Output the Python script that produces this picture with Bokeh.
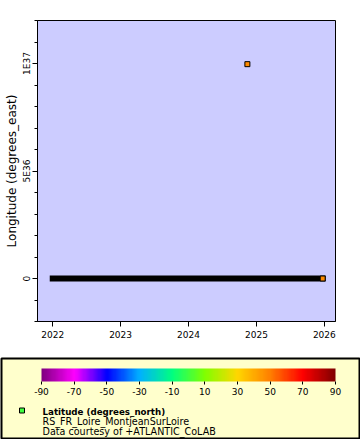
from datetime import datetime
import numpy as np
from bokeh.plotting import figure
from bokeh.layouts import column
from bokeh.models import (Range1d, FixedTicker, CustomJSTickFormatter, LinearColorMapper,
                          ColorBar, ColumnDataSource)
from bokeh.core.properties import value
from bokeh.embed import file_html
from bokeh.resources import INLINE

FONT = "DejaVu Sans"

# ---------------- data ----------------
y_title = "Longitude (degrees_east)"
color_title = "Latitude (degrees_north)"
station = "RS_FR_Loire_MontjeanSurLoire"
credit = "Data courtesy of +ATLANTIC_CoLAB"

station_lon = -0.86
station_lat = 47.39
# dense daily record (hundreds of overlapping squares -> solid track)
record_start = datetime(2022, 1, 1)
record_end = datetime(2025, 12, 23)

# individually visible points
point_time = [datetime(2024, 11, 13), datetime(2025, 12, 23)]
point_lon = [9.96921e36, -0.86]
point_lat = [47.39, 47.39]

year_ticks = [2022, 2023, 2024, 2025, 2026]
lon_major = [0.0, 5e36, 1e37]
lon_minor = [-2e36, -1e36, 0.0, 1e36, 2e36, 3e36, 4e36, 5e36, 6e36, 7e36,
             8e36, 9e36, 1e37, 1.1e37, 1.2e37]
lat_ticks = [-90, -70, -50, -30, -10, 10, 30, 50, 70, 90]

x_start = datetime(2021, 10, 11)
x_end = datetime(2026, 3, 2)
y_start, y_end = -2e36, 1.2e37

# ---------------- palette (Rainbow2-like) ----------------
anchor_vals = [-90, -70, -50, -30, -10, 10, 30, 50, 70, 90]
anchor_cols = ["#800080", "#FF00FF", "#0000FF", "#00B0FF", "#00FF80",
               "#80FF00", "#FFD700", "#FF8000", "#FF0000", "#800000"]


def hex2rgb(h):
    return [int(h[i:i + 2], 16) for i in (1, 3, 5)]


rgb = np.array([hex2rgb(c) for c in anchor_cols], dtype=float)
vals = np.linspace(-90, 90, 256)
palette = []
for v in vals:
    r = np.interp(v, anchor_vals, rgb[:, 0])
    g = np.interp(v, anchor_vals, rgb[:, 1])
    b = np.interp(v, anchor_vals, rgb[:, 2])
    palette.append("#%02x%02x%02x" % (int(round(r)), int(round(g)), int(round(b))))

mapper = LinearColorMapper(palette=palette, low=-90, high=90)


def to_ms(d):
    return (d - datetime(1970, 1, 1)).total_seconds() * 1000.0


# ---------------- main plot ----------------
p = figure(width=360, height=357, x_axis_type="datetime",
           x_range=Range1d(x_start, x_end), y_range=Range1d(y_start, y_end),
           output_backend="svg", toolbar_location=None,
           min_border_left=37, min_border_right=25, min_border_top=20, min_border_bottom=36)
p.frame_align = False
p.background_fill_color = "#CCCCFF"
p.border_fill_color = "white"
p.outline_line_color = "black"
p.outline_line_width = 1
p.outline_line_alpha = 1.0
p.xgrid.visible = False
p.ygrid.visible = False

p.xaxis.ticker = FixedTicker(ticks=[to_ms(datetime(y, 1, 1)) for y in year_ticks], minor_ticks=[])
p.xaxis.formatter = CustomJSTickFormatter(code="return String(new Date(tick).getUTCFullYear());")
p.yaxis.ticker = FixedTicker(ticks=lon_major, minor_ticks=lon_minor)
p.yaxis.formatter = CustomJSTickFormatter(code="""
if (tick === 0) return "0";
const e = Math.floor(Math.log10(Math.abs(tick)) + 1e-9);
const m = Math.round(tick / Math.pow(10, e));
return m + "E" + e;
""")
for ax in (p.xaxis[0], p.yaxis[0]):
    ax.axis_line_color = "black"
    ax.major_tick_line_color = "black"
    ax.minor_tick_line_color = "black"
    ax.major_tick_in = 0
    ax.major_tick_out = 5
    ax.minor_tick_in = 0
    ax.minor_tick_out = 3
    ax.major_label_text_font = FONT
    ax.major_label_text_font_size = "9px"
    ax.major_label_text_color = "black"
p.xaxis.major_label_standoff = 4
p.yaxis.major_label_standoff = 1
p.yaxis.major_label_orientation = "vertical"
p.yaxis.axis_label = y_title
p.yaxis.axis_label_text_font = FONT
p.yaxis.axis_label_text_font_size = "12px"
p.yaxis.axis_label_text_font_style = "normal"
p.yaxis.axis_label_text_color = "black"
p.yaxis.axis_label_standoff = 0

p.segment(x0=[record_start], y0=[station_lon], x1=[record_end], y1=[station_lon],
          line_color="black", line_width=6, line_cap="square")

src = ColumnDataSource(data=dict(time=point_time, lon=point_lon, lat=point_lat))
p.scatter("time", "lon", source=src, marker="square", size=5,
          fill_color={"field": "lat", "transform": mapper}, line_color="black", line_width=1)

# ---------------- legend panel (page coordinates: x right, y = -page_y) ----------------
p2 = figure(width=360, height=82, x_range=Range1d(1, 359), y_range=Range1d(-438, -358),
            output_backend="svg", toolbar_location=None,
            x_axis_location=None, y_axis_location=None,
            min_border_left=1, min_border_right=1, min_border_top=1, min_border_bottom=1)
p2.frame_align = False
p2.background_fill_color = "#FFFFCC"
p2.border_fill_color = "#FFFFCC"
p2.outline_line_color = "black"
p2.outline_line_width = 2
p2.xgrid.visible = False
p2.ygrid.visible = False

cb = ColorBar(color_mapper=mapper, orientation="horizontal", width=294, height=13,
              location=(40, 41), padding=0, margin=0,
              ticker=FixedTicker(ticks=lat_ticks, minor_ticks=[]),
              formatter=CustomJSTickFormatter(code="return String(tick);"),
              major_label_text_font=FONT, major_label_text_font_size="9px",
              major_label_text_color="black",
              major_tick_in=0, major_tick_out=3, major_tick_line_color="black",
              minor_tick_line_color=None, bar_line_color=None,
              background_fill_alpha=0, border_line_color=None, label_standoff=3)
p2.add_layout(cb, "center")

p2.scatter(x=[21.5], y=[-410], marker="square", size=5, fill_color="#40FF40",
           line_color="black", line_width=1)
p2.text(x=[42], y=[-411.5], text=[color_title], text_font=value(FONT), text_font_style="bold",
        text_font_size="8.7px", text_baseline="alphabetic", text_color="black")
p2.text(x=[42, 42], y=[-421, -430.5], text=[station, credit], text_font=value(FONT),
        text_font_size="9.6px", text_baseline="alphabetic", text_color="black")

layout = column(p, p2, spacing=0)
open("out.html", "w").write(file_html(layout, INLINE, title=""))
